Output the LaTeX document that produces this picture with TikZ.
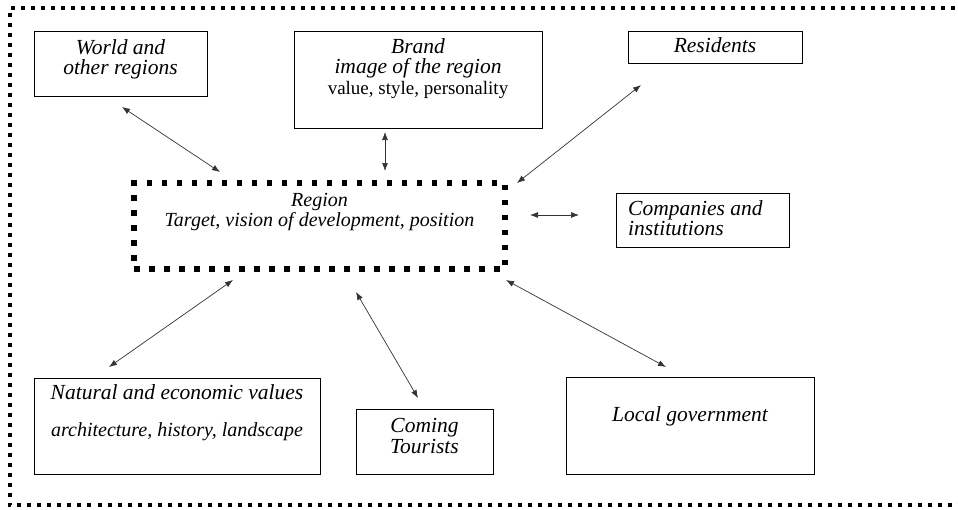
\documentclass[tikz,border=0pt]{standalone}
\usepackage{fontspec}
\setmainfont{Liberation Serif}
\usetikzlibrary{positioning,arrows.meta}

\begin{document}
\begin{tikzpicture}[x=1pt,y=-1pt,
        box/.style={draw,line width=0.8pt,outer sep=0pt},
        dotbox/.style={draw,line width=5.5pt,dash pattern=on 5.5pt off 9.5pt,outer sep=0pt},
        txt/.style={inner sep=0pt,align=center,font=\fontsize{21.5}{20.5}\selectfont\itshape},
        link/.style={<->,>={Latex[length=8pt,width=6pt]},line width=0.7pt,black!80}]

    \useasboundingbox (0,0) rectangle (958,509);
    \draw[line width=4pt,dash pattern=on 4pt off 6pt] (975,7.5) -- (10,7.5) -- (10,505) -- (975,505);

    \node[box,minimum width=173pt,minimum height=65pt] (world) at (120.5,63.5) {};
    \node[box,minimum width=248pt,minimum height=97pt] (brand) at (418,79.5) {};
    \node[box,minimum width=174pt,minimum height=32pt] (residents) at (715,47) {};
    \node[dotbox,minimum width=371pt,minimum height=86pt] (region) at (319.5,226) {};
    \node[box,minimum width=173pt,minimum height=54pt] (companies) at (702.5,220) {};
    \node[box,minimum width=286pt,minimum height=96pt] (natural) at (177,426) {};
    \node[box,minimum width=137pt,minimum height=65pt] (tourists) at (424.5,441.5) {};
    \node[box,minimum width=248pt,minimum height=97pt] (local) at (690,425.5) {};

    \node[txt,below=8.2pt of world.north] (world-t) {World and\\other regions};
    \node[txt,below=7.2pt of brand.north] (brand-t) {Brand\\image of the region\\{\fontsize{19}{20.5}\selectfont\upshape value, style, personality}};
    \node[txt,below=6.2pt of residents.north] (residents-t) {Residents};
    \node[txt,font=\fontsize{20}{20}\selectfont\itshape,below=10.5pt of region.north] (region-t) {Region\\Target, vision of development, position};
    \node[txt,align=left,below right=7.2pt and 12pt of companies.north west] (companies-t) {Companies and\\institutions};
    \node[txt,below=6.2pt of natural.north] (natural-t) {Natural and economic values\\[16.5pt]{\fontsize{20}{20.5}\selectfont architecture, history, landscape}};
    \node[txt,below=9.4pt of tourists.north] (tourists-t) {Coming\\Tourists};
    \node[txt,below=29.2pt of local.north] (local-t) {Local government};

    \path[link]
    ([shift={(1.5,11)}]world.south) edge ([shift={(86,-11)}]region.north west)
    ([shift={(-33,4)}]brand.south) edge ([shift={(65.5,-12)}]region.north)
    ([shift={(13,22)}]residents.south west) edge ([shift={(12,0)}]region.north east)
    ([shift={(25,-11)}]region.east) edge ([shift={(-37,-5)}]companies.west)
    ([shift={(99,11)}]region.south west) edge ([shift={(-68,-11)}]natural.north)
    ([shift={(36.5,23)}]region.south) edge ([shift={(-6.5,-11)}]tourists.north)
    ([shift={(1,11)}]region.south east) edge ([shift={(-24,-10)}]local.north);

\end{tikzpicture}
\end{document}
